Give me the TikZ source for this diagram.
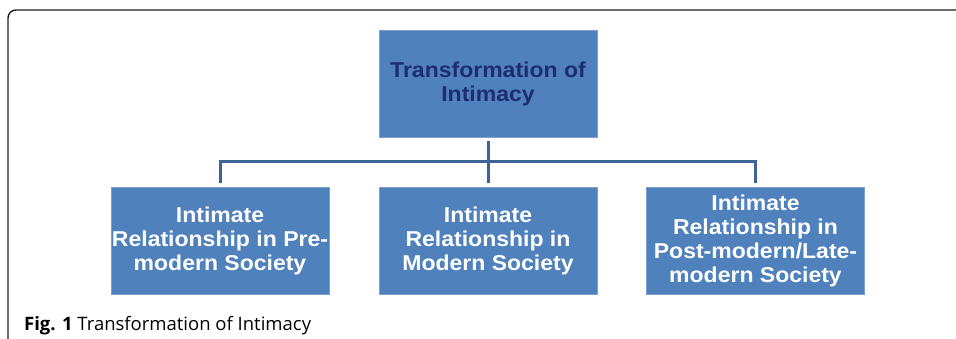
\documentclass[tikz,border=0pt]{standalone}
\usepackage{fontspec}
\setmainfont{Liberation Sans}
\newfontfamily\boxfont{Liberation Sans}[FakeStretch=1.07]
\newfontfamily\capfont{Open Sans}
\definecolor{boxfill}{RGB}{79,129,189}
\definecolor{boxedge}{RGB}{125,160,205}
\definecolor{conncol}{RGB}{60,100,150}
\definecolor{toptext}{RGB}{30,45,110}
\definecolor{framecol}{RGB}{30,30,30}
\begin{document}
\begin{tikzpicture}[x=1pt,y=-1pt,
  boxnode/.style={draw=boxedge, line width=0.8pt, fill=boxfill, minimum width=218pt, minimum height=107pt,
    inner sep=0pt, align=center, font=\boxfont\bfseries\fontsize{21.5pt}{24pt}\selectfont},
  conn/.style={draw=conncol, line width=3pt, line join=miter}]
\useasboundingbox (0,0) rectangle (956,339);
\draw[framecol, line width=1.4pt, rounded corners=8pt] (8,345) -- (8,10) -- (960,10);
\node[boxnode, text=toptext] (top) at (488,83.5) {Transformation of\\Intimacy};
\node[boxnode, text=white] (b1) at (220,240.5) {Intimate\\Relationship in Pre-\\modern Society};
\node[boxnode, text=white] (b2) at (488,240.5) {Intimate\\Relationship in\\Modern Society};
\node[boxnode, text=white] (b3) at (755.5,240.5) {Intimate\\Relationship in\\Post-modern/Late-\\modern Society};
\coordinate (bus) at (488,162);
\draw[conn, shorten <=4pt] (top.south) -- (bus);
\draw[conn, shorten >=4pt] (bus) -| (b1.north);
\draw[conn, shorten >=4pt] (bus) -| (b3.north);
\draw[conn, shorten >=4pt] (bus) -- (b2.north);
\node[anchor=base west, inner sep=0pt, font=\capfont\fontsize{18.5pt}{22pt}\selectfont] (cap) at (24,330)
  {\textbf{Fig. 1} Transformation of Intimacy};
\end{tikzpicture}
\end{document}
